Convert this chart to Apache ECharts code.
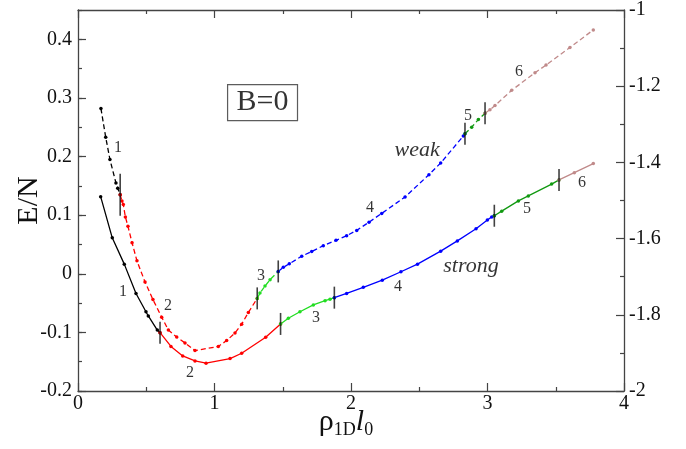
<!DOCTYPE html>
<html>
<head>
<meta charset="utf-8">
<script src="https://cdn.jsdelivr.net/npm/echarts@6/dist/echarts.min.js"></script>
<style>
  html, body { margin: 0; padding: 0; background: #fff; }
  #chart { width: 686px; height: 449px; }
</style>
</head>
<body>
<div id="chart"></div>
<script>
// Weak-coupling branch (dashed, left axis), split into regimes 1..6
const weak1 = [[0.168,0.282],[0.203,0.233],[0.234,0.195],[0.278,0.155],[0.291,0.146],[0.309,0.135]];
const weak2 = [[0.309,0.135],[0.322,0.124],[0.332,0.118],[0.347,0.097],[0.366,0.081],[0.396,0.053],[0.432,0.022],[0.491,-0.014],[0.549,-0.044],[0.613,-0.074],[0.662,-0.096],[0.723,-0.108],[0.784,-0.118],[0.857,-0.131],[1.028,-0.124],[1.089,-0.114],[1.150,-0.101],[1.199,-0.086],[1.248,-0.066],[1.313,-0.042]];
const weak3 = [[1.313,-0.042],[1.333,-0.033],[1.370,-0.021],[1.407,-0.010],[1.467,0.004]];
const weak4 = [[1.467,0.004],[1.504,0.011],[1.548,0.017],[1.639,0.030],[1.712,0.038],[1.797,0.048],[1.890,0.057],[1.968,0.065],[2.042,0.074],[2.132,0.088],[2.225,0.103],[2.396,0.131],[2.571,0.169],[2.657,0.189],[2.823,0.235],[2.835,0.239]];
const weak5 = [[2.835,0.239],[2.884,0.250],[2.933,0.263],[2.982,0.274]];
const weak6 = [[2.982,0.274],[3.018,0.280],[3.055,0.287],[3.177,0.313],[3.348,0.343],[3.429,0.356],[3.604,0.386],[3.775,0.416]];

// Strong-coupling branch (solid, right axis)
const strong1 = [[0.166,-1.490],[0.251,-1.598],[0.339,-1.667],[0.425,-1.744],[0.498,-1.792],[0.515,-1.803],[0.581,-1.840],[0.601,-1.847]];
const strong2 = [[0.601,-1.847],[0.681,-1.883],[0.767,-1.908],[0.857,-1.921],[0.938,-1.927],[1.114,-1.915],[1.199,-1.901],[1.375,-1.859],[1.484,-1.824]];
const strong3 = [[1.484,-1.824],[1.541,-1.809],[1.626,-1.792],[1.724,-1.774],[1.810,-1.763],[1.846,-1.759],[1.878,-1.755]];
const strong4 = [[1.878,-1.755],[1.968,-1.744],[2.090,-1.728],[2.229,-1.709],[2.366,-1.687],[2.487,-1.667],[2.657,-1.633],[2.779,-1.606],[2.916,-1.574],[2.999,-1.551],[3.031,-1.543],[3.050,-1.540]];
const strong5 = [[3.050,-1.540],[3.104,-1.528],[3.226,-1.501],[3.299,-1.488],[3.470,-1.457],[3.524,-1.446]];
const strong6 = [[3.524,-1.446],[3.636,-1.427],[3.775,-1.403]];

// Regime numbers (left-axis coordinates)
const weakTags = [[0.293,0.215,'1'],[0.659,-0.055,'2'],[1.341,-0.003,'3'],[2.139,0.113,'4'],[2.857,0.270,'5'],[3.231,0.345,'6']];
const strongTags = [[0.330,-0.031,'1'],[0.821,-0.169,'2'],[1.744,-0.075,'3'],[2.344,-0.022,'4'],[3.289,0.111,'5'],[3.692,0.156,'6']];
const branchNames = [[2.484,0.210,'weak'],[2.879,0.0125,'strong']];
const fieldTag = [[1.352,0.292,'B=0']];

// Axis ticks
const xTicks = { min: 0, max: 4, step: 1 };
const leftTicks = { min: -0.2, max: 0.45, step: 0.1, minorStep: 0.05 };
const rightTicks = { min: -2, max: -1, step: 0.2 };

const SERIF = '"Liberation Serif", "DejaVu Serif", serif';
const AXIS_COLOR = '#444';
const regimeColors = ['#000000', '#ff0000', '#22dd22', '#0000ff', '#119911', '#c08a8a'];

const weakSegs = [weak1, weak2, weak3, weak4, weak5, weak6];
const strongSegs = [strong1, strong2, strong3, strong4, strong5, strong6];

const series = [];
weakSegs.forEach((seg, i) => {
  series.push({
    type: 'line', yAxisIndex: 0, data: seg,
    symbol: 'circle', symbolSize: 3.5, showSymbol: true,
    lineStyle: { color: regimeColors[i], width: 1.3, type: [5, 3] },
    itemStyle: { color: regimeColors[i] },
    z: 3, silent: true
  });
});
strongSegs.forEach((seg, i) => {
  series.push({
    type: 'line', yAxisIndex: 1, data: seg,
    symbol: 'circle', symbolSize: 3.5, showSymbol: true,
    lineStyle: { color: regimeColors[i], width: 1.3 },
    itemStyle: { color: regimeColors[i] },
    z: 3, silent: true
  });
});

// Vertical bars at regime boundaries (end of each segment but the last)
const weakBounds = weakSegs.slice(0, -1).map(s => s[s.length - 1]);
const strongBounds = strongSegs.slice(0, -1).map(s => s[s.length - 1]);
series.push({
  type: 'scatter', yAxisIndex: 0, data: weakBounds,
  symbol: 'rect',
  symbolSize: (v, p) => p.dataIndex === 0 ? [1.6, 42] : [1.6, 22],
  itemStyle: { color: '#111' }, z: 4, silent: true
});
series.push({
  type: 'scatter', yAxisIndex: 1, data: strongBounds,
  symbol: 'rect', symbolSize: [1.6, 22],
  itemStyle: { color: '#111' }, z: 4, silent: true
});

function textSeries(data, labelStyle) {
  return {
    type: 'scatter', yAxisIndex: 0, data: data,
    symbol: 'circle', symbolSize: 1,
    itemStyle: { color: 'rgba(0,0,0,0)' },
    label: Object.assign({
      show: true, position: 'inside', formatter: p => p.data[2],
      fontFamily: SERIF, color: '#000'
    }, labelStyle),
    z: 5, silent: true
  };
}
series.push(textSeries(weakTags.concat(strongTags), { fontSize: 16 }));
series.push(textSeries(branchNames, { fontSize: 22, fontStyle: 'italic' }));
series.push(textSeries(fieldTag, {
  fontSize: 30, borderColor: '#333', borderWidth: 1.2, padding: [3, 9, 3, 9], lineHeight: 30
}));

const tickStyle = { lineStyle: { color: AXIS_COLOR, width: 1.2 } };
const lineStyle = { color: AXIS_COLOR, width: 1.3 };

const option = {
  animation: false,
  backgroundColor: '#fff',
  grid: { left: 78, right: 62, top: 10, bottom: 58, containLabel: false, outerBoundsMode: 'none' },
  xAxis: [
    {
      type: 'value', position: 'bottom', min: xTicks.min, max: xTicks.max, interval: xTicks.step,
      axisLine: { show: true, onZero: false, lineStyle: lineStyle },
      axisTick: Object.assign({ show: true, inside: true, length: 8 }, tickStyle),
      minorTick: { show: true, splitNumber: 2, length: 4, lineStyle: { color: AXIS_COLOR, width: 1.2 } },
      splitLine: { show: false }, minorSplitLine: { show: false },
      axisLabel: { fontFamily: SERIF, fontSize: 20, color: '#111', margin: 3 },
      name: '{r|ρ}{s|1D}{l|l}{s|0}',
      nameLocation: 'middle', nameGap: 14, nameMoveOverlap: false,
      nameTextStyle: {
        padding: [0, 10, 0, 0],
        rich: {
          r: { fontFamily: SERIF, fontSize: 30, color: '#111', lineHeight: 34, verticalAlign: 'middle' },
          l: { fontFamily: SERIF, fontSize: 30, fontStyle: 'italic', color: '#111', lineHeight: 34, verticalAlign: 'middle' },
          s: { fontFamily: SERIF, fontSize: 18, color: '#111', lineHeight: 20, verticalAlign: 'bottom' }
        }
      }
    },
    {
      type: 'value', position: 'top', min: xTicks.min, max: xTicks.max, interval: xTicks.step,
      axisLine: { show: true, onZero: false, lineStyle: lineStyle },
      axisTick: Object.assign({ show: true, inside: true, length: 8 }, tickStyle),
      minorTick: { show: true, splitNumber: 2, length: 4, lineStyle: { color: AXIS_COLOR, width: 1.2 } },
      splitLine: { show: false }, axisLabel: { show: false }
    }
  ],
  yAxis: [
    {
      type: 'value', position: 'left', min: leftTicks.min, max: leftTicks.max, interval: leftTicks.step,
      axisLine: { show: true, onZero: false, lineStyle: lineStyle },
      axisTick: Object.assign({ show: true, inside: true, length: 8 }, tickStyle),
      splitLine: { show: false },
      axisLabel: { fontFamily: SERIF, fontSize: 20, color: '#111', margin: 6, showMaxLabel: false },
      name: 'E/N', nameLocation: 'middle', nameGap: 34, nameRotate: 90, nameMoveOverlap: false,
      nameTextStyle: { fontFamily: SERIF, fontSize: 30, color: '#111' }
    },
    {
      type: 'value', position: 'right', min: rightTicks.min, max: rightTicks.max, interval: rightTicks.step,
      axisLine: { show: true, onZero: false, lineStyle: lineStyle },
      axisTick: Object.assign({ show: true, inside: true, length: 8 }, tickStyle),
      minorTick: { show: true, splitNumber: 2, length: 4, lineStyle: { color: AXIS_COLOR, width: 1.2 } },
      splitLine: { show: false },
      axisLabel: { fontFamily: SERIF, fontSize: 20, color: '#111', margin: 5 }
    },
    {
      // minor ticks of the left axis
      type: 'value', position: 'left', min: leftTicks.min, max: leftTicks.max, interval: leftTicks.minorStep,
      axisLine: { show: false, onZero: false },
      axisTick: Object.assign({ show: true, inside: true, length: 4 }, tickStyle),
      splitLine: { show: false }, axisLabel: { show: false }
    }
  ],
  series: series
};

const chart = echarts.init(document.getElementById('chart'), null, { renderer: 'canvas' });
chart.setOption(option);
</script>
</body>
</html>
